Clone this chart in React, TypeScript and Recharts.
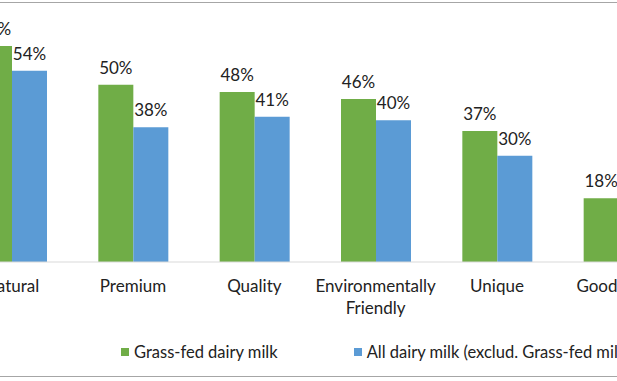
import React from 'react';
import { BarChart, Bar, XAxis, YAxis, LabelList } from 'recharts';

const categories = ['Natural', 'Premium', 'Quality', 'Environmentally Friendly', 'Unique', 'Good Taste'];
const grassFed = [0.61, 0.5, 0.48, 0.46, 0.37, 0.18];
const allDairy = [0.54, 0.38, 0.41, 0.4, 0.3, 0.14];
const seriesNames = ['Grass-fed dairy milk', 'All dairy milk (exclud. Grass-fed milk)'];
const colors = ['#70ad47', '#5b9bd5'];

const data = categories.map((name, i) => ({ name, grass: grassFed[i], all: allDairy[i] }));

const FONT = 'Lato, "Noto Sans", sans-serif';
const pct = (v: any) => `${Math.round(Number(v) * 100)}%`;

const Tick = (props: any) => {
  const { x, y, payload } = props;
  const label: string = payload.value;
  const lines = label.length > 14 ? label.split(' ') : [label];
  return (
    <text x={x} y={y} textAnchor="middle" fill="#222" fontSize={17} fontFamily={FONT}>
      {lines.map((l, i) => (
        <tspan key={i} x={x} dy={22}>{l}</tspan>
      ))}
    </text>
  );
};

export default function App() {
  return (
    <div style={{ position: 'absolute', left: 0, top: 0, width: 617, height: 381, overflow: 'hidden', background: '#fff', fontFamily: FONT }}>
      <div style={{ position: 'absolute', left: 0, right: 0, top: 2, height: 1, background: '#a6a6a6' }} />
      <div style={{ position: 'absolute', left: 0, right: 0, top: 376, height: 1, background: '#a6a6a6' }} />
      <div style={{ position: 'absolute', left: -49, top: 0 }}>
        <BarChart width={728} height={381} data={data} margin={{ top: 14, right: 0, bottom: 59, left: 0 }} barGap={0}>
          <XAxis dataKey="name" interval={0} height={60} tickLine={false} axisLine={{ stroke: '#d9d9d9' }} tick={<Tick />} />
          <YAxis hide domain={[0, 0.7]} />
          <Bar dataKey="grass" fill={colors[0]} barSize={35} isAnimationActive={false}>
            <LabelList dataKey="grass" position="top" offset={11} formatter={pct} fill="#222" fontSize={17} fontFamily={FONT} />
          </Bar>
          <Bar dataKey="all" fill={colors[1]} barSize={35} isAnimationActive={false}>
            <LabelList dataKey="all" position="top" offset={11} formatter={pct} fill="#222" fontSize={17} fontFamily={FONT} />
          </Bar>
        </BarChart>
      </div>
      <div style={{ position: 'absolute', top: 342, left: 121, display: 'flex', alignItems: 'center', whiteSpace: 'nowrap', fontSize: 16.5, color: '#222' }}>
        {seriesNames.map((n, i) => (
          <div key={n} style={{ display: 'flex', alignItems: 'center', marginRight: 76 }}>
            <span style={{ width: 8, height: 8, background: colors[i], marginRight: 5, display: 'inline-block' }} />
            <span>{n}</span>
          </div>
        ))}
      </div>
    </div>
  );
}
